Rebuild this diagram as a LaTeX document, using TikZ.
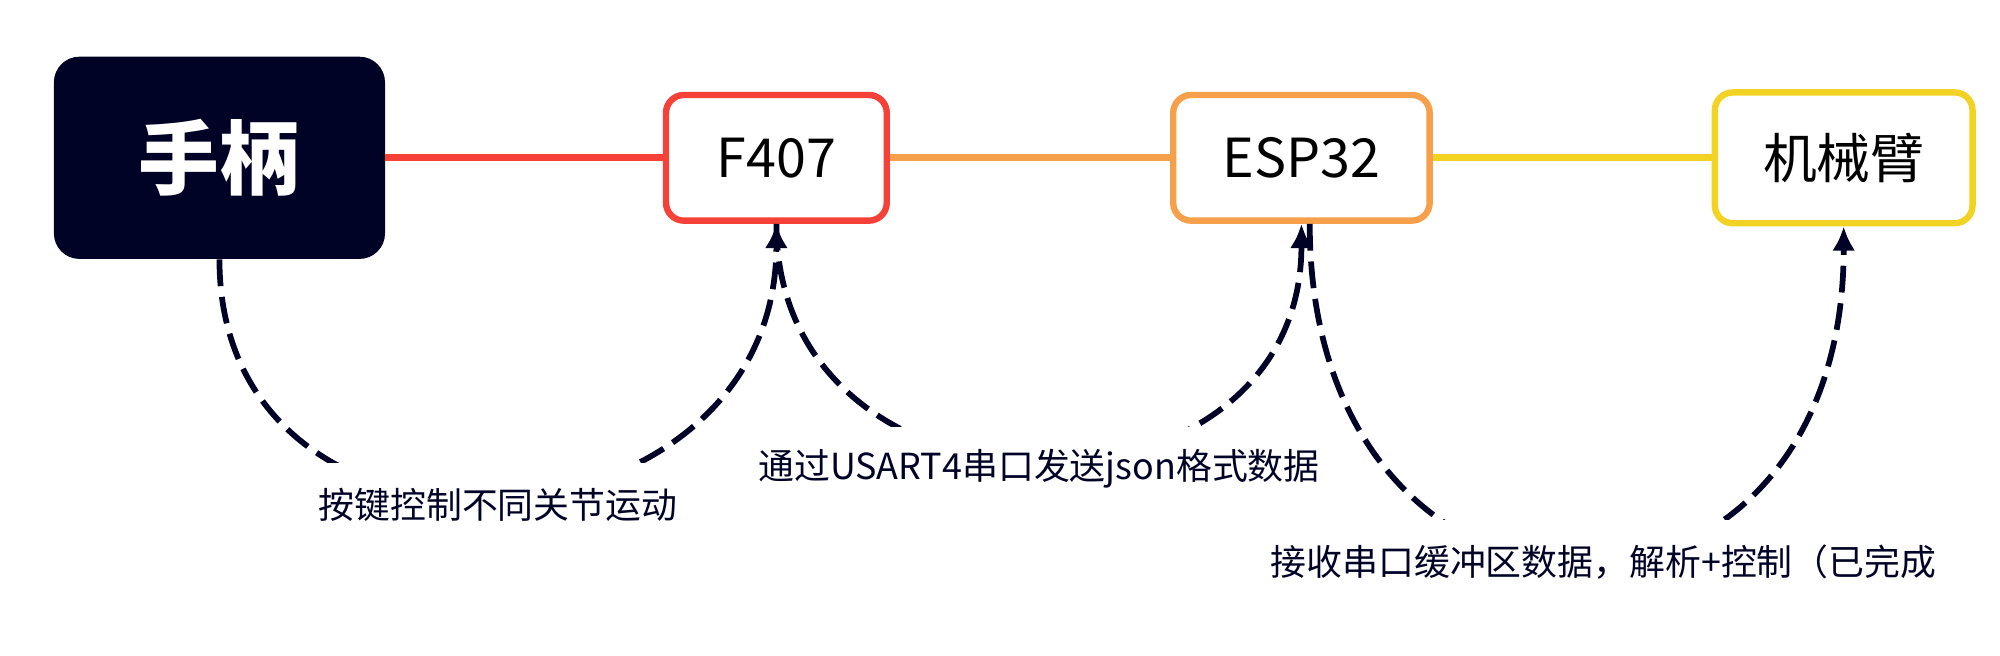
\documentclass[tikz,border=0pt]{standalone}
\usepackage{fontspec}
\setmainfont{Noto Sans CJK SC}
\usetikzlibrary{arrows.meta}
\definecolor{dark} {RGB}{  0,  2, 38}
\definecolor{one}  {RGB}{245, 65, 55}
\definecolor{two}  {RGB}{246,160, 76}
\definecolor{three}{RGB}{242,211, 36}

\begin{document}
\begin{tikzpicture}[
  font={\fontsize{24}{28}\selectfont},
  source/.style={fill=dark,text=white,rounded corners=0.4cm,minimum width=5.19cm,minimum height=3.17cm,font={\fontsize{36}{40}\selectfont\bfseries}},
  device/.style={draw,fill=white,text=black,line width=0.1cm,rounded corners=0.28cm,inner sep=0pt,minimum height=1.97cm},
  link/.style={line width=0.11cm},
  flow/.style={dark,line width=0.09cm,dash pattern=on 0.42cm off 0.17cm,-{Latex[length=0.38cm,width=0.36cm]}},
  tag/.style={fill=white,text=dark,font={\fontsize{16}{19}\selectfont},inner xsep=2pt,inner ysep=0pt,minimum height=1.32cm},
]

  % Keep the page size of the original
  \useasboundingbox (0,0) rectangle (31.35,10.28);

  % Chain of devices
  \node[source] (handle) at (3.44,7.806) {手柄};
  \node[device,draw=one,minimum width=3.46cm] (f407) at (12.17,7.806) {F407};
  \node[device,draw=two,minimum width=4.02cm] (esp) at (20.40,7.806) {ESP32};
  \node[device,draw=three,minimum width=4.04cm,minimum height=2.05cm] (arm) at (28.90,7.806) {机械臂};

  \draw[link,one] (handle.east) -- (f407.west);
  \draw[link,two] (f407.east) -- (esp.west);
  \draw[link,three] (esp.east) -- (arm.west);

  % What each hop does
  \draw[flow] (handle.south) .. controls +(0,-5.33) and +(0,-5.33) .. node[tag,midway,yshift=-0.13cm] {按键控制不同关节运动} (f407.south);
  \draw[flow] (f407.south) .. controls +(0,-4.94) and +(0,-4.94) .. node[tag,midway,yshift=-0.14cm] {通过USART4串口发送json格式数据} (esp.south);
  \draw[flow] ([xshift=0.13cm]esp.south) .. controls +(0,-7.05) and +(0,-7.05) .. node[tag,midway,xshift=0.42cm] {接收串口缓冲区数据，解析+控制（已完成} (arm.south);

\end{tikzpicture}
\end{document}
